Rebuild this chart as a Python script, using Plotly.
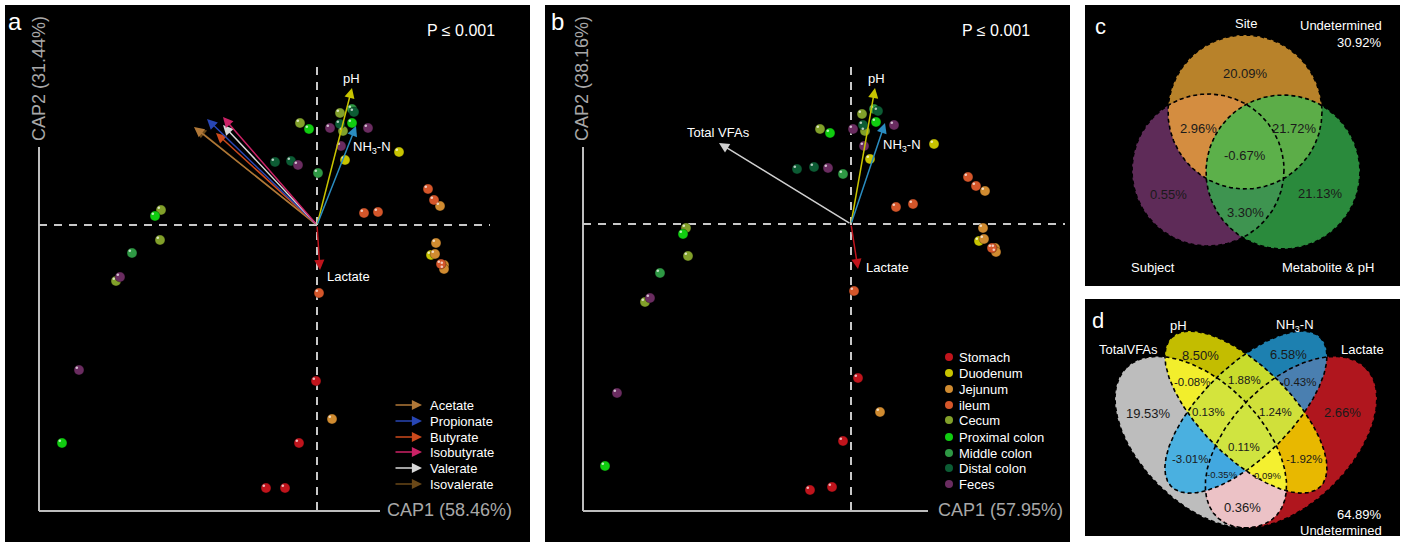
import numpy as np
import plotly.graph_objects as go

W, H = 1405, 542
FONT = "Arial, 'Liberation Sans', sans-serif"

# ---------------- data ----------------
site_names = ["Stomach", "Duodenum", "Jejunum", "ileum", "Cecum",
              "Proximal colon", "Middle colon", "Distal colon", "Feces"]
site_colors = ["#c0141c", "#c8c400", "#d08b30", "#d4562a", "#82a02a",
               "#10cc10", "#2e9944", "#0c5c34", "#6a2c60"]

a_site = (["Stomach"] * 4 + ["Duodenum"] * 3 + ["Jejunum"] * 6 + ["ileum"] * 6 +
          ["Cecum"] * 6 + ["Proximal colon"] * 4 + ["Middle colon"] * 3 +
          ["Distal colon"] * 4 + ["Feces"] * 6)
a_cap1 = [-0.01, -0.18, -0.51, -0.32, 0.28, 0.82, 1.14,
          1.23, 1.19, 1.18, 1.27, 1.27, 0.15,
          1.11, 1.17, 0.47, 0.61, 1.24, 0.02,
          -0.17, 0.23, 0.26, -1.56, -1.57, -2.01,
          -0.08, 0.35, -1.62, -2.55,
          0.35, 0.01, -1.85,
          0.23, 0.37, -0.42, -0.26,
          0.13, 0.51, 0.24, -0.19, -1.97, -2.38]
a_cap2 = [-1.56, -2.18, -2.63, -2.63, 0.65, 0.73, -0.30,
          0.19, -0.18, -0.29, -0.40, -0.44, -1.94,
          0.36, 0.25, 0.12, 0.13, -0.39, -0.68,
          1.02, 1.12, 0.94, 0.15, -0.15, -0.56,
          0.96, 1.02, 0.09, -2.18,
          1.16, 0.52, -0.28,
          1.01, 1.13, 0.63, 0.64,
          0.97, 0.97, 0.79, 0.60, -0.52, -1.45]

b_site = a_site
b_cap1 = [0.07, -0.08, -0.19, -0.41, 0.19, 0.83, 1.28,
          1.34, 1.32, 1.33, 1.44, 1.45, 0.29,
          1.17, 1.25, 0.45, 0.62, 1.41, 0.03,
          -0.31, 0.11, 0.14, -1.65, -1.63, -2.06,
          -0.21, 0.25, -1.68, -2.46,
          0.23, -0.08, -1.91,
          0.27, 0.12, -0.54, -0.37,
          0.02, 0.43, 0.13, -0.23, -2.01, -2.34]
b_cap2 = [-1.54, -2.17, -2.63, -2.66, 0.65, 0.80, -0.17,
          0.33, -0.04, -0.15, -0.24, -0.28, -1.88,
          0.47, 0.38, 0.17, 0.20, -0.24, -0.67,
          0.95, 1.10, 0.93, -0.04, -0.32, -0.78,
          0.91, 1.02, -0.10, -2.42,
          1.15, 0.50, -0.49,
          1.13, 0.99, 0.55, 0.57,
          0.95, 0.99, 0.78, 0.56, -0.74, -1.69]

a_vec_names = ["Isovalerate", "Acetate", "Butyrate", "Propionate", "Valerate",
               "Isobutyrate", "pH", "NH3-N", "Lactate"]
a_vec_x = [-1.21, -1.23, -1.01, -1.10, -0.94, -0.94, 0.35, 0.39, 0.03]
a_vec_y = [0.97, 0.98, 0.92, 1.06, 1.00, 1.08, 1.37, 0.99, -0.45]
a_vec_colors = ["#6a4818", "#b07838", "#cc4a1c", "#2846b4", "#d8d8d8",
                "#cc2266", "#c8c400", "#2a8cc0", "#c0141c"]

b_vec_names = ["Total VFAs", "pH", "NH3-N", "Lactate"]
b_vec_x = [-1.32, 0.24, 0.34, 0.07]
b_vec_y = [0.81, 1.36, 1.01, -0.45]
b_vec_colors = ["#d0d0d0", "#c8c400", "#2a8cc0", "#c0141c"]

legend_a_names = ["Acetate", "Propionate", "Butyrate", "Isobutyrate", "Valerate", "Isovalerate"]
legend_a_colors = ["#b07838", "#2846b4", "#cc4a1c", "#cc2266", "#d8d8d8", "#6a4818"]

a_axis_labels = ["CAP1 (58.46%)", "CAP2 (31.44%)"]
b_axis_labels = ["CAP1 (57.95%)", "CAP2 (38.16%)"]
p_value_text = "P ≤ 0.001"

# Venn c
c_sets = ["Site", "Subject", "Metabolite & pH"]
c_regions = [(0,), (0, 1), (0, 2), (0, 1, 2), (1,), (2,), (1, 2)]
c_values = [20.09, 2.96, 21.72, -0.67, 0.55, 21.13, 3.30]
c_undetermined = 30.92

# Venn d
d_sets = ["TotalVFAs", "pH", "NH<sub>3</sub>-N", "Lactate"]
d_regions = [(1,), (2,), (0, 1), (1, 2), (2, 3), (0,), (0, 1, 2), (1, 2, 3), (3,),
             (0, 1, 2, 3), (0, 2), (1, 3), (0, 2, 3), (0, 1, 3), (0, 3)]
d_values = [8.50, 6.58, -0.08, 1.88, -0.43, 19.53, 0.13, 1.24, 2.66,
            0.11, -3.01, -1.92, -0.35, 0.09, 0.36]
d_undetermined = 64.89

# ---------------- layout constants (pixels) ----------------
A_ORIG = (317, 225)
B_ORIG = (851, 224)
SCALE = 100.0
A_X = (39, 490)
B_X = (583, 1065)
PLOT_Y = (40, 510)

c_label_pos = {(0,): (1245, 73), (0, 1): (1198, 128), (0, 2): (1294, 128),
               (0, 1, 2): (1245, 155), (1,): (1168, 194), (2,): (1320, 193),
               (1, 2): (1245, 212)}
c_set_pos = [(1246, 23), (1153, 267), (1328, 267)]
c_circles = [(1245, 112, 77, 77, 0), (1208, 170, 76, 76, 0), (1283, 172, 77, 77, 0)]
c_colors = {(0,): "#b8822a", (1,): "#5e2b58", (2,): "#2a8a3c", (0, 1): "#d48d40",
            (0, 2): "#5cad48", (1, 2): "#3e9450", (0, 1, 2): "#5cb04a"}

d_label_pos = {(1,): (1200, 355), (2,): (1288, 354), (0, 1): (1192, 382), (1, 2): (1244, 380),
               (2, 3): (1298, 382), (0,): (1148, 413), (0, 1, 2): (1208, 412),
               (1, 2, 3): (1275, 412), (3,): (1342, 412), (0, 1, 2, 3): (1244, 447),
               (0, 2): (1190, 459), (1, 3): (1304, 459), (0, 2, 3): (1222, 474),
               (0, 1, 3): (1267, 475), (0, 3): (1242, 507)}
d_small = {(0, 2, 3), (0, 1, 3)}
d_set_pos = [(1128, 349), (1178, 325), (1295, 325), (1362, 349)]
d_colors = {(0,): "#bdbdbd", (1,): "#c3bd00", (2,): "#1d80b0", (3,): "#b0161e",
            (0, 1): "#f2ee2c", (1, 2): "#c8dc2c", (2, 3): "#4a7fb0", (0, 2): "#4ab0e0",
            (1, 3): "#e8b800", (0, 3): "#ecc2c6",
            (0, 1, 2): "#d4e43c", (1, 2, 3): "#d0e03a", (0, 2, 3): "#42a8e0",
            (0, 1, 3): "#f4f030", (0, 1, 2, 3): "#d0e440"}
# unit-square ellipse layout (x, y, a, b, rotation) mapped to pixels
D_X0, D_Y0, D_S = 1115, 528, 301
d_unit_ell = [(0.35, 0.47, 0.35, 0.20, 135), (0.50, 0.57, 0.35, 0.15, 135),
              (0.50, 0.57, 0.35, 0.15, 45), (0.65, 0.47, 0.35, 0.20, 45)]
d_ellipses = [(D_X0 + (x - 0.065) * D_S, D_Y0 - (y - 0.185) * D_S, a * D_S, b * D_S, -r)
              for (x, y, a, b, r) in d_unit_ell]


# ---------------- helpers ----------------
def ellipse_pts(cx, cy, a, b, ang, n=900):
    t = np.linspace(0, 2 * np.pi, n, endpoint=False)
    ca, sa = np.cos(np.radians(ang)), np.sin(np.radians(ang))
    x = cx + a * np.cos(t) * ca - b * np.sin(t) * sa
    y = cy + a * np.cos(t) * sa + b * np.sin(t) * ca
    return x, y


def inside(x, y, e):
    cx, cy, a, b, ang = e
    ca, sa = np.cos(np.radians(ang)), np.sin(np.radians(ang))
    dx, dy = x - cx, y - cy
    u = dx * ca + dy * sa
    v = -dx * sa + dy * ca
    return (u / a) ** 2 + (v / b) ** 2 <= 1 + 1e-9


def intersection(ells):
    xs, ys = [], []
    for i, e in enumerate(ells):
        x, y = ellipse_pts(*e)
        m = np.ones_like(x, dtype=bool)
        for j, f in enumerate(ells):
            if j != i:
                m &= inside(x, y, f)
        xs.append(x[m]); ys.append(y[m])
    x = np.concatenate(xs); y = np.concatenate(ys)
    mx, my = x.mean(), y.mean()
    o = np.argsort(np.arctan2(y - my, x - mx))
    x, y = x[o], y[o]
    return np.append(x, x[0]), np.append(y, y[0])


def px(x):
    return x / W


def py(y):
    return 1 - y / H


fig = go.Figure()
shapes = []
ann = []

# panel backgrounds
for (x0, y0, x1, y1) in [(5, 5, 530, 542), (545, 5, 1070, 542), (1085, 5, 1400, 286), (1085, 299, 1400, 536)]:
    shapes.append(dict(type="rect", xref="paper", yref="paper", x0=px(x0), x1=px(x1),
                       y0=py(y1), y1=py(y0), fillcolor="black", line=dict(width=0), layer="below"))

# axis lines + dashed cross lines
for (ax0, axend) in [(A_X[0], 380), (B_X[0], 928)]:
    shapes.append(dict(type="line", xref="paper", yref="paper", x0=px(ax0), x1=px(ax0),
                       y0=py(147), y1=py(511), line=dict(color="#bdbdbd", width=2), layer="below"))
    shapes.append(dict(type="line", xref="paper", yref="paper", x0=px(ax0), x1=px(axend),
                       y0=py(511), y1=py(511), line=dict(color="#bdbdbd", width=2), layer="below"))
for (xa, xb, orig) in [(A_X[0], 490, A_ORIG), (B_X[0], 1065, B_ORIG)]:
    shapes.append(dict(type="line", xref="paper", yref="paper", x0=px(orig[0]), x1=px(orig[0]),
                       y0=py(67), y1=py(510), line=dict(color="#c8c8c8", width=2, dash="8px,7px"), layer="below"))
    shapes.append(dict(type="line", xref="paper", yref="paper", x0=px(xa), x1=px(xb),
                       y0=py(orig[1]), y1=py(orig[1]), line=dict(color="#c8c8c8", width=2, dash="8px,7px"), layer="below"))

# scatter points
hl_dx, hl_dy = -2.2 / SCALE, 2.2 / SCALE
for (sites, c1, c2, xa, ya) in [(a_site, a_cap1, a_cap2, "x", "y"), (b_site, b_cap1, b_cap2, "x2", "y2")]:
    c1 = np.array(c1); c2 = np.array(c2); s = np.array(sites)
    for name, col in zip(site_names, site_colors):
        m = s == name
        fig.add_trace(go.Scatter(x=c1[m], y=c2[m], mode="markers", xaxis=xa, yaxis=ya,
                                 marker=dict(size=10, color=col, line=dict(width=0.6, color="rgba(0,0,0,0.5)")),
                                 hoverinfo="skip", showlegend=False))
    fig.add_trace(go.Scatter(x=c1 + hl_dx, y=c2 + hl_dy, mode="markers", xaxis=xa, yaxis=ya,
                             marker=dict(size=2.6, color="rgba(255,255,255,0.7)"),
                             hoverinfo="skip", showlegend=False))

# vectors
for (vx, vy, vc, xr, yr) in [(a_vec_x, a_vec_y, a_vec_colors, "x", "y"), (b_vec_x, b_vec_y, b_vec_colors, "x2", "y2")]:
    for x, y, c in zip(vx, vy, vc):
        ann.append(dict(x=x, y=y, ax=0, ay=0, xref=xr, yref=yr, axref=xr, ayref=yr, text="",
                        showarrow=True, arrowhead=2, arrowsize=1.35, arrowwidth=1.5, arrowcolor=c, standoff=0))


def txt(x, y, t, size=13, color="white", xanchor="center", angle=0):
    ann.append(dict(x=x, y=y, xref="x3", yref="y3", text=t, showarrow=False, textangle=angle,
                    font=dict(family=FONT, size=size, color=color), xanchor=xanchor, yanchor="middle"))


# panel a texts
txt(15, 21, "a", 24)
txt(461, 30, p_value_text, 16)
txt(39, 79, a_axis_labels[1], 18, "#a8a8a8", angle=-90)
txt(449, 510, a_axis_labels[0], 18, "#a8a8a8")
txt(351, 78, "pH", 13)
txt(372, 147, "NH<sub>3</sub>-N", 13)
txt(348, 276, "Lactate", 13)
leg_rows_a = [405, 421, 437, 452, 468, 484]
for nm, col, yy in zip(legend_a_names, legend_a_colors, leg_rows_a):
    ann.append(dict(x=422, y=yy, ax=394, ay=yy, xref="x3", yref="y3", axref="x3", ayref="y3", text="",
                    showarrow=True, arrowhead=2, arrowsize=1.35, arrowwidth=1.5, arrowcolor=col, standoff=0))
    txt(428, yy, nm, 13, xanchor="left")

# panel b texts
txt(557, 21, "b", 24)
txt(996, 30, p_value_text, 16)
txt(582, 79, b_axis_labels[1], 18, "#a8a8a8", angle=-90)
txt(1000, 510, b_axis_labels[0], 18, "#a8a8a8")
txt(876, 78, "pH", 13)
txt(902, 145, "NH<sub>3</sub>-N", 13)
txt(718, 132, "Total VFAs", 13)
txt(887, 267, "Lactate", 13)
leg_rows_b = [357, 373, 389, 405, 420, 437, 453, 468, 484]
fig.add_trace(go.Scatter(x=[949] * len(site_names), y=leg_rows_b, mode="markers", xaxis="x3", yaxis="y3",
                         marker=dict(size=8, color=site_colors), hoverinfo="skip", showlegend=False))
for nm, yy in zip(site_names, leg_rows_b):
    txt(957, yy, nm, 13, xanchor="left")


# Venn diagrams
def draw_venn(ells, colors):
    keys = sorted(colors.keys(), key=len)
    for k in keys:
        if len(k) == 1:
            x, y = ellipse_pts(*ells[k[0]])
            x = np.append(x, x[0]); y = np.append(y, y[0])
        else:
            x, y = intersection([ells[i] for i in k])
        fig.add_trace(go.Scatter(x=x, y=y, mode="lines", fill="toself", fillcolor=colors[k],
                                 line=dict(width=0), xaxis="x3", yaxis="y3",
                                 hoverinfo="skip", showlegend=False))
    for e in ells:
        x, y = ellipse_pts(*e)
        x = np.append(x, x[0]); y = np.append(y, y[0])
        fig.add_trace(go.Scatter(x=x, y=y, mode="lines", line=dict(color="black", width=1.6, dash="4px,3px"),
                                 xaxis="x3", yaxis="y3", hoverinfo="skip", showlegend=False))


draw_venn(c_circles, c_colors)
draw_venn(d_ellipses, d_colors)

# panel c texts
txt(1100, 26, "c", 22)
for nm, (x, y) in zip(c_sets, c_set_pos):
    txt(x, y, nm, 13)
txt(1384, 25, "Undetermined", 13, xanchor="right")
txt(1384, 42, f"{c_undetermined:.2f}%", 13, xanchor="right")
for k, v in zip(c_regions, c_values):
    x, y = c_label_pos[k]
    txt(x, y, f"{v:.2f}%", 13, "#1a1a1a")

# panel d texts
txt(1098, 320, "d", 22)
for nm, (x, y) in zip(d_sets, d_set_pos):
    txt(x, y, nm, 13)
for k, v in zip(d_regions, d_values):
    x, y = d_label_pos[k]
    size = 9.5 if k in d_small else (13 if len(k) == 1 or k == (0, 3) else 11.5)
    txt(x, y, f"{v:.2f}%", size, "#1a1a1a")
txt(1384, 514, f"{d_undetermined:.2f}%", 13, xanchor="right")
txt(1384, 530, "Undetermined", 13, xanchor="right")

ax_common = dict(visible=False, fixedrange=True, showgrid=False, zeroline=False)
fig.update_layout(
    width=W, height=H, autosize=False,
    margin=dict(l=0, r=0, t=0, b=0, pad=0),
    paper_bgcolor="white", plot_bgcolor="rgba(0,0,0,0)",
    showlegend=False,
    font=dict(family=FONT),
    xaxis=dict(domain=[px(A_X[0]), px(A_X[1])],
               range=[(A_X[0] - A_ORIG[0]) / SCALE, (A_X[1] - A_ORIG[0]) / SCALE], anchor="y", **ax_common),
    yaxis=dict(domain=[py(PLOT_Y[1]), py(PLOT_Y[0])],
               range=[(A_ORIG[1] - PLOT_Y[1]) / SCALE, (A_ORIG[1] - PLOT_Y[0]) / SCALE], anchor="x", **ax_common),
    xaxis2=dict(domain=[px(B_X[0]), px(B_X[1])],
                range=[(B_X[0] - B_ORIG[0]) / SCALE, (B_X[1] - B_ORIG[0]) / SCALE], anchor="y2", **ax_common),
    yaxis2=dict(domain=[py(PLOT_Y[1]), py(PLOT_Y[0])],
                range=[(B_ORIG[1] - PLOT_Y[1]) / SCALE, (B_ORIG[1] - PLOT_Y[0]) / SCALE], anchor="x2", **ax_common),
    xaxis3=dict(domain=[0, 1], range=[0, W], anchor="y3", **ax_common),
    yaxis3=dict(domain=[0, 1], range=[H, 0], anchor="x3", **ax_common),
    shapes=shapes,
    annotations=ann,
)

fig.write_html("out.html")
